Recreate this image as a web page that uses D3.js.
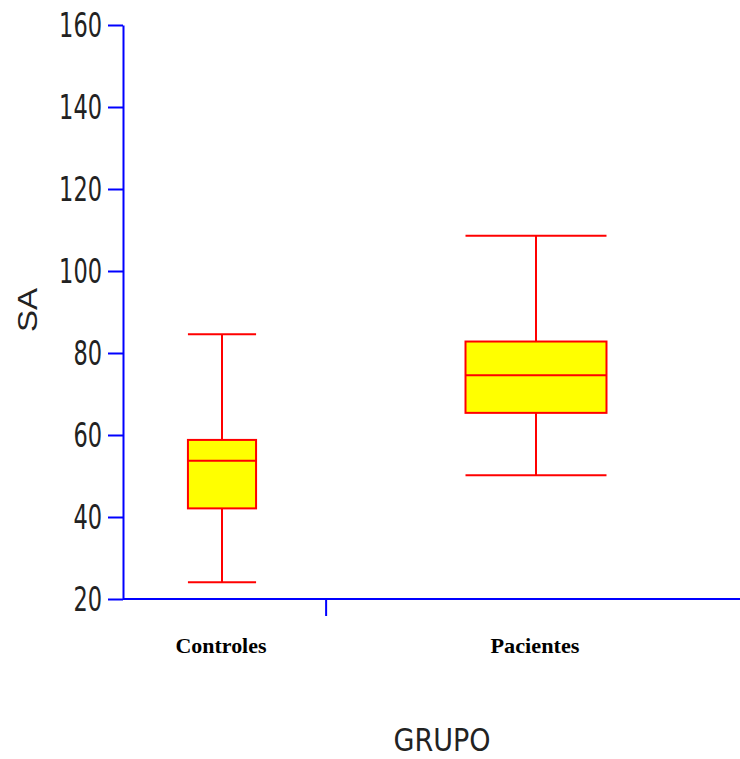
<!DOCTYPE html>
<html>
<head>
<meta charset="utf-8">
<script src="https://cdn.jsdelivr.net/npm/d3@7"></script>
<style>
  body { margin: 0; background: #fff; }
  svg { display: block; }
</style>
</head>
<body>
<div id="chart"></div>
<script>
// data
const groups = ["Controles", "Pacientes"],
  groupPos = [1, 2],
  groupWidth = [0.217, 0.449],   // relative box widths (variable-width boxes)
  whiskerLow = [24.1, 50.2],
  q1 = [42.1, 65.4],
  median = [53.7, 74.6],
  q3 = [58.8, 82.8],
  whiskerHigh = [84.6, 108.6],
  yTicks = [20, 40, 60, 80, 100, 120, 140, 160],
  xTicks = [1.33];

const width = 740, height = 759,
  blue = "#0000ff", red = "#ff0000", yellow = "#ffff00",
  narrow = "'Liberation Sans Narrow', 'DejaVu Sans Condensed', Arial, sans-serif";

const svg = d3.select('#chart').append('svg')
  .attr('width', width)
  .attr('height', height);

const y = d3.scaleLinear()
  .domain([20, 160])
  .range([599, 25]);

const x = d3.scaleLinear()
  .domain([1, 2])
  .range([222, 536]);

const boxes = groups.map((g, i) => ({
  name: g, pos: groupPos[i], w: groupWidth[i],
  lo: whiskerLow[i], q1: q1[i], med: median[i], q3: q3[i], hi: whiskerHigh[i]
}));

// y axis
const yAxis = svg.append('g')
  .attr('transform', 'translate(123,0)')
  .call(d3.axisLeft(y).tickValues(yTicks).tickSize(15).tickSizeOuter(0).tickPadding(6));
yAxis.select('.domain').attr('stroke', blue).attr('stroke-width', 2);
yAxis.selectAll('.tick line').attr('stroke', blue).attr('stroke-width', 2);
yAxis.selectAll('.tick text')
  .attr('fill', '#222')
  .style('font-family', narrow)
  .style('font-size', '33px')
  .attr('dy', '0.36em')
  .attr('textLength', d => String(d).length * 14.3)
  .attr('lengthAdjust', 'spacingAndGlyphs');

// x axis
const xAxis = svg.append('g')
  .attr('transform', 'translate(0,' + y(20) + ')')
  .call(d3.axisBottom(x).tickValues(xTicks).tickSize(17).tickSizeOuter(0).tickFormat(''));
xAxis.select('.domain').attr('d', 'M123,0H740').attr('stroke', blue).attr('stroke-width', 2);
xAxis.selectAll('.tick line').attr('stroke', blue).attr('stroke-width', 2);

// boxes
const bw = d => x(1 + d.w) - x(1);
const box = svg.append('g').attr('class', 'boxes')
  .selectAll('g.box')
  .data(boxes)
  .enter()
  .append('g')
  .attr('class', 'box');

const seg = (sel, x1, x2, y1, y2) => sel.append('line')
  .attr('x1', x1).attr('x2', x2).attr('y1', y1).attr('y2', y2)
  .attr('stroke', red).attr('stroke-width', 2);

seg(box, d => x(d.pos), d => x(d.pos), d => y(d.hi), d => y(d.q3));
seg(box, d => x(d.pos), d => x(d.pos), d => y(d.q1), d => y(d.lo));
seg(box, d => x(d.pos) - bw(d) / 2, d => x(d.pos) + bw(d) / 2, d => y(d.hi), d => y(d.hi));
seg(box, d => x(d.pos) - bw(d) / 2, d => x(d.pos) + bw(d) / 2, d => y(d.lo), d => y(d.lo));
box.append('rect')
  .attr('x', d => x(d.pos) - bw(d) / 2)
  .attr('width', d => bw(d))
  .attr('y', d => y(d.q3))
  .attr('height', d => y(d.q1) - y(d.q3))
  .attr('fill', yellow)
  .attr('stroke', red).attr('stroke-width', 2);
seg(box, d => x(d.pos) - bw(d) / 2, d => x(d.pos) + bw(d) / 2, d => y(d.med), d => y(d.med));

// category labels
svg.selectAll('text.cat')
  .data(boxes)
  .enter()
  .append('text')
  .attr('class', 'cat')
  .attr('x', d => x(d.pos) - 1)
  .attr('y', 653)
  .attr('text-anchor', 'middle')
  .style('font-family', "'Liberation Serif', 'Times New Roman', serif")
  .style('font-weight', 'bold')
  .style('font-size', '22px')
  .attr('textLength', d => d.name === 'Controles' ? 91 : 89)
  .attr('lengthAdjust', 'spacingAndGlyphs')
  .text(d => d.name);

// axis titles
svg.append('text')
  .attr('transform', 'translate(37,310) rotate(-90)')
  .attr('text-anchor', 'middle')
  .style('font-family', "'Liberation Sans', Arial, sans-serif")
  .style('font-size', '28px')
  .attr('fill', '#222')
  .attr('textLength', 44)
  .attr('lengthAdjust', 'spacingAndGlyphs')
  .text('SA');

svg.append('text')
  .attr('x', 442)
  .attr('y', 751)
  .attr('text-anchor', 'middle')
  .style('font-family', narrow)
  .style('font-size', '32px')
  .attr('fill', '#222')
  .attr('textLength', 97)
  .attr('lengthAdjust', 'spacingAndGlyphs')
  .text('GRUPO');
</script>
</body>
</html>
